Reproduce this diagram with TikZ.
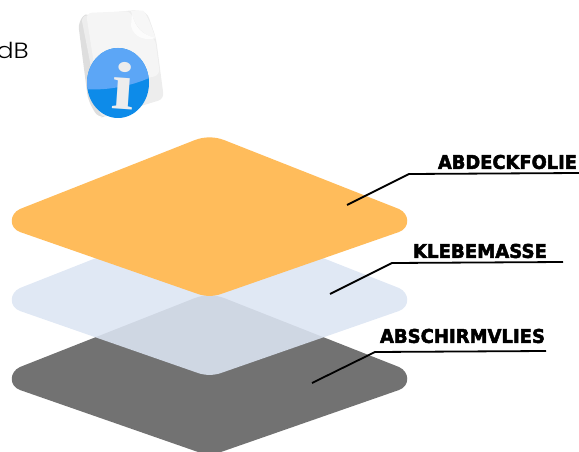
\documentclass[tikz,border=0pt]{standalone}
\usepackage{fontspec}
\usepackage{graphicx}
\setmainfont{DejaVu Sans}
\newfontfamily\dbfont{Poppins Light}
\newfontfamily\ifont{Liberation Serif}
\newfontfamily\labfont[FakeBold=2.6]{DejaVu Sans Bold}
\definecolor{orangeL}{HTML}{FFBC5B}
\definecolor{blueL}{RGB}{220,229,243}
\definecolor{grayL}{HTML}{727272}
\definecolor{iconhi}{HTML}{5CA6F6}
\definecolor{iconlo}{HTML}{0D8BE9}
\tikzset{
  leader/.style={draw=black,line width=1.8pt,line join=round},
  lab/.style={inner sep=0pt,outer sep=0pt,font=\labfont},
}
\newcommand{\slab}[3]{\resizebox{#1pt}{#2pt}{#3}}
\begin{document}
\begin{tikzpicture}[x=1pt,y=-1pt]
\useasboundingbox (0,0) rectangle (579,452);
\clip (0,0) rectangle (579,452);
% layers
\def\lay#1#2{\fill[#2] (20,#1-12) -- (195,#1-81) .. controls (204,#1-84.5) and (215,#1-84.5) .. (224,#1-81)
  -- (399,#1-12) .. controls (410,#1-7) and (410,#1+7) .. (399,#1+11)
  -- (221,#1+73) .. controls (214,#1+75.5) and (205,#1+75.5) .. (198,#1+73)
  -- (20,#1+11) .. controls (9,#1+7) and (9,#1-7) .. (20,#1-12) -- cycle;}
\lay{379}{fill=grayL}
\lay{300}{fill=blueL,fill opacity=.88}
\lay{221}{fill=orangeL}
% text
\node[anchor=east,inner sep=0pt,xscale=1.15,font=\dbfont\fontsize{22}{22}\selectfont] (db) at (29,50) {dB};
% icon
\fill[black!13,rounded corners=7pt] (78,22) -- (88,11) -- (108,116) -- (98,118) -- (88,100) -- cycle;
\fill[black!7,rounded corners=6pt] (81,16) -- (135,10) -- (147,12) -- (156,38) -- (164,99) -- (101,118) -- cycle;
\fill[black!4,rounded corners=6pt] (86,13) -- (131,11) -- (135,30) -- (155,38) -- (160,75) -- (98,90) -- cycle;
\fill[black!3] (131,11) -- (143,10.5) .. controls (147,14) and (152,28) .. (155.5,38) .. controls (143,35) and (135,27) .. (131,11) -- cycle;
\fill[black!1] (132,14) .. controls (135,27) and (142,35) .. (156,38) .. controls (146,41) and (134,38) .. (131,26) -- cycle;
\begin{scope}
\path[clip] (118,83) ellipse [x radius=31,y radius=35];
\fill[iconlo] (80,40) rectangle (160,125);
\fill[iconhi] (85,89) .. controls (105,91) and (135,86) .. (155,75) -- (155,40) -- (85,40) -- cycle;
\end{scope}
\node[inner sep=0pt,rotate=-4,text=black!7,font=\ifont\bfseries] (inf) at (124,85.5) {\resizebox{23pt}{47pt}{i}};
% leaders
\coordinate (a1) at (347,205); \coordinate (a2) at (409,174); \coordinate (a3) at (579,173);
\coordinate (k1) at (330,294); \coordinate (k2) at (392,263); \coordinate (k3) at (563,262);
\coordinate (s1) at (312,383); \coordinate (s2) at (375,352); \coordinate (s3) at (546,351);
\draw[leader] (a1) -- (a2) -- (a3);
\draw[leader] (k1) -- (k2) -- (k3);
\draw[leader] (s1) -- (s2) -- (s3);
\node[lab] (la) at (507.5,162) {\slab{139}{14}{ABDECKFOLIE}};
\node[lab] (lk) at (480,251) {\slab{134}{14}{KLEBEMASSE}};
\node[lab] (ls) at (462.5,336) {\slab{165}{14}{ABSCHIRMVLIES}};
\end{tikzpicture}
\end{document}
